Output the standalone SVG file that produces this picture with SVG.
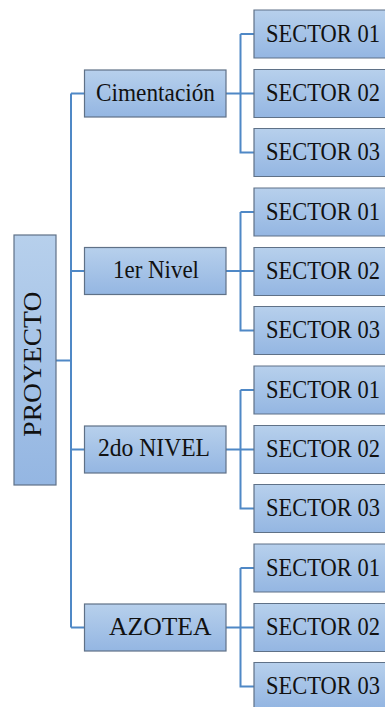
<svg xmlns="http://www.w3.org/2000/svg" width="385" height="707" viewBox="0 0 385 707">
<defs>
<linearGradient id="g" x1="0" y1="0" x2="0" y2="1">
<stop offset="0" stop-color="#b7d0ec"/>
<stop offset="1" stop-color="#94b6e2"/>
</linearGradient>
</defs>
<style>
.b{fill:url(#g);stroke:#5f7187;stroke-width:1.2}
.s{fill:url(#g);stroke:none}
.e{fill:none;stroke:#5f7187;stroke-width:1.2}
text{font-family:'Liberation Serif','Times New Roman',serif;font-size:25.5px;fill:#111}
.t{font-size:22.5px}
.c{fill:none;stroke:#4f88c6;stroke-width:2}
</style>
<rect width="385" height="707" fill="#fff"/>
<g id="connectors" class="c">
<path d="M56 360.5H71M71 93.5V627.5M71 93.5H84.5M71 271H84.5M71 449.5H84.5M71 627.5H84.5"/>
<path d="M226 93.5H254M240.5 34V152.5H254M240.5 34H254"/>
<path d="M226 271H254M240.5 212V330.5H254M240.5 212H254"/>
<path d="M226 449.5H254M240.5 390V508.5H254M240.5 390H254"/>
<path d="M226 627.5H254M240.5 568V686.5H254M240.5 568H254"/>
</g>
<g id="proyecto"><rect class="b" x="14" y="235" width="42" height="250"/><text transform="translate(40.7 436.7) rotate(-90)" textLength="145" lengthAdjust="spacingAndGlyphs">PROYECTO</text></g>
<g id="cimentacion"><rect class="b" x="84.5" y="70" width="141.5" height="47"/><text x="96" y="100.5" textLength="119" lengthAdjust="spacingAndGlyphs">Cimentación</text></g>
<g id="nivel1"><rect class="b" x="84.5" y="247.5" width="141.5" height="47"/><text x="113" y="278" textLength="86" lengthAdjust="spacingAndGlyphs">1er Nivel</text></g>
<g id="nivel2"><rect class="b" x="84.5" y="426" width="141.5" height="47"/><text x="98" y="456" textLength="112" lengthAdjust="spacingAndGlyphs">2do NIVEL</text></g>
<g id="azotea"><rect class="b" x="84.5" y="604" width="141.5" height="47"/><text x="109" y="635" textLength="102.5" lengthAdjust="spacingAndGlyphs">AZOTEA</text></g>
<g id="c1"><rect class="s" x="254" y="10" width="131" height="48"/><path class="e" d="M385 10H254V58H385"/><text class="t" transform="translate(266 41.5) scale(1 1.12)">SECTOR 01</text></g>
<g id="c2"><rect class="s" x="254" y="69.5" width="131" height="48"/><path class="e" d="M385 69.5H254V117.5H385"/><text class="t" transform="translate(266 101) scale(1 1.12)">SECTOR 02</text></g>
<g id="c3"><rect class="s" x="254" y="128.5" width="131" height="48"/><path class="e" d="M385 128.5H254V176.5H385"/><text class="t" transform="translate(266 160) scale(1 1.12)">SECTOR 03</text></g>
<g id="n1"><rect class="s" x="254" y="188" width="131" height="48"/><path class="e" d="M385 188H254V236H385"/><text class="t" transform="translate(266 219.5) scale(1 1.12)">SECTOR 01</text></g>
<g id="n2"><rect class="s" x="254" y="247.5" width="131" height="48"/><path class="e" d="M385 247.5H254V295.5H385"/><text class="t" transform="translate(266 279) scale(1 1.12)">SECTOR 02</text></g>
<g id="n3"><rect class="s" x="254" y="306.5" width="131" height="48"/><path class="e" d="M385 306.5H254V354.5H385"/><text class="t" transform="translate(266 338) scale(1 1.12)">SECTOR 03</text></g>
<g id="d1"><rect class="s" x="254" y="366" width="131" height="48"/><path class="e" d="M385 366H254V414H385"/><text class="t" transform="translate(266 397.5) scale(1 1.12)">SECTOR 01</text></g>
<g id="d2"><rect class="s" x="254" y="425.5" width="131" height="48"/><path class="e" d="M385 425.5H254V473.5H385"/><text class="t" transform="translate(266 457) scale(1 1.12)">SECTOR 02</text></g>
<g id="d3"><rect class="s" x="254" y="484.5" width="131" height="48"/><path class="e" d="M385 484.5H254V532.5H385"/><text class="t" transform="translate(266 516) scale(1 1.12)">SECTOR 03</text></g>
<g id="a1"><rect class="s" x="254" y="544" width="131" height="48"/><path class="e" d="M385 544H254V592H385"/><text class="t" transform="translate(266 575.5) scale(1 1.12)">SECTOR 01</text></g>
<g id="a2"><rect class="s" x="254" y="603.5" width="131" height="48"/><path class="e" d="M385 603.5H254V651.5H385"/><text class="t" transform="translate(266 635) scale(1 1.12)">SECTOR 02</text></g>
<g id="a3"><rect class="s" x="254" y="662.5" width="131" height="44.5"/><path class="e" d="M385 662.5H254V707"/><text class="t" transform="translate(266 694) scale(1 1.12)">SECTOR 03</text></g>
</svg>
